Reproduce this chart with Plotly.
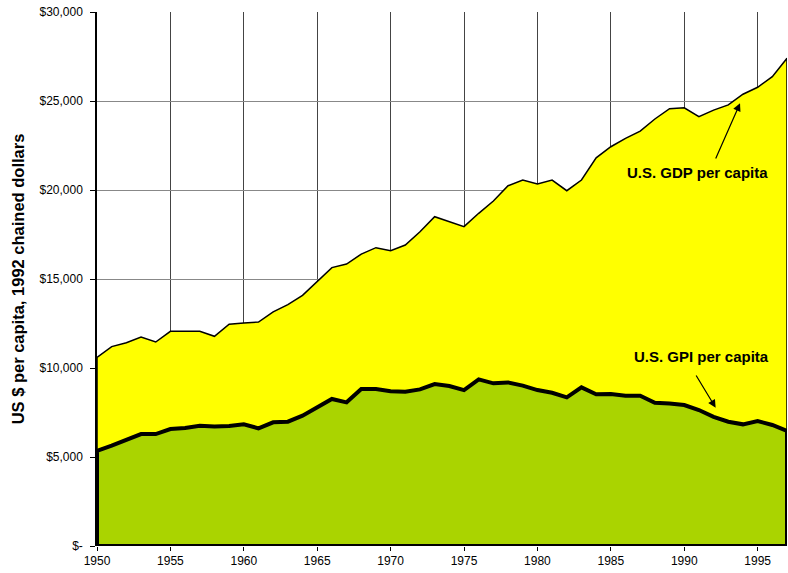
import plotly.graph_objects as go

years = list(range(1950, 1998))
gdp = [10600, 11200, 11420, 11740, 11460, 12060, 12060, 12060, 11780, 12460,
       12530, 12580, 13150, 13560, 14080, 14850, 15640, 15840, 16400, 16760,
       16590, 16910, 17650, 18500, 18200, 17940, 18690, 19380, 20240, 20560,
       20340, 20560, 19960, 20560, 21810, 22430, 22900, 23310, 23990, 24570,
       24620, 24120, 24490, 24780, 25380, 25770, 26370, 27400]
gpi = [5350, 5635, 5955, 6290, 6290, 6570, 6630, 6760, 6720, 6740,
       6835, 6610, 6950, 6985, 7320, 7810, 8260, 8070, 8820, 8820,
       8700, 8670, 8800, 9100, 8990, 8760, 9360, 9140, 9190, 9010,
       8760, 8610, 8350, 8910, 8520, 8540, 8440, 8440, 8050, 8010,
       7920, 7640, 7260, 6980, 6835, 7020, 6800, 6460]
ytick_vals = [0, 5000, 10000, 15000, 20000, 25000, 30000]
ytick_text = ["$-", "$5,000", "$10,000", "$15,000", "$20,000", "$25,000", "$30,000"]
xtick_vals = list(range(1950, 1996, 5))

fig = go.Figure()
fig.add_trace(go.Scatter(
    x=[years[0]] + years + [years[-1]], y=[0] + gdp + [0],
    fill="toself", fillcolor="#FFFF00", mode="lines",
    line=dict(color="black", width=1.5), hoverinfo="skip", showlegend=False))
fig.add_trace(go.Scatter(
    x=[years[0]] + years + [years[-1], years[0]], y=[0] + gpi + [0, 0],
    fill="toself", fillcolor="#AAD400", mode="lines",
    line=dict(color="black", width=4), hoverinfo="skip", showlegend=False))

font_ann = dict(family="Liberation Sans, Arial, sans-serif", size=15, color="black")
fig.add_annotation(x=1993.8, y=24870, ax=1992.1, ay=21690, axref="x", ayref="y",
                   text="", showarrow=True, arrowhead=2, arrowsize=1.3, arrowwidth=1.2, arrowcolor="black")
fig.add_annotation(x=1992.14, y=7770, ax=1990.75, ay=9660, axref="x", ayref="y",
                   text="", showarrow=True, arrowhead=2, arrowsize=1.3, arrowwidth=1.2, arrowcolor="black")
fig.add_annotation(x=1990.9, y=21010, text="<b>U.S. GDP per capita</b>", showarrow=False, font=font_ann)
fig.add_annotation(x=1991.2, y=10620, text="<b>U.S. GPI per capita</b>", showarrow=False, font=font_ann)

fig.update_layout(
    width=788, height=573,
    margin=dict(l=97, r=1, t=12, b=27),
    paper_bgcolor="white", plot_bgcolor="white",
    font=dict(family="Liberation Sans, Arial, sans-serif", size=12, color="black"),
    xaxis=dict(range=[1950, 1997], tickvals=xtick_vals, ticktext=[str(v) for v in xtick_vals],
               showgrid=True, gridcolor="#444", gridwidth=1, ticks="outside", ticklen=4,
               tickcolor="black", showline=False, zeroline=False, layer="below traces",
               automargin=False),
    yaxis=dict(range=[0, 30000], tickvals=ytick_vals, ticktext=ytick_text,
               showgrid=True, gridcolor="#888", gridwidth=1, ticks="outside", ticklen=5,
               tickcolor="black", showline=True, linecolor="black", linewidth=1.5,
               zeroline=False, layer="below traces", automargin=False, ticklabelstandoff=5,
               title=dict(text="<b>US $ per capita, 1992 chained dollars</b>",
                          font=dict(size=16.5, family="Liberation Sans, Arial, sans-serif"), standoff=11)),
)
fig.write_html("out.html", config={"displayModeBar": False},
               post_script="document.body.style.margin='0';")
